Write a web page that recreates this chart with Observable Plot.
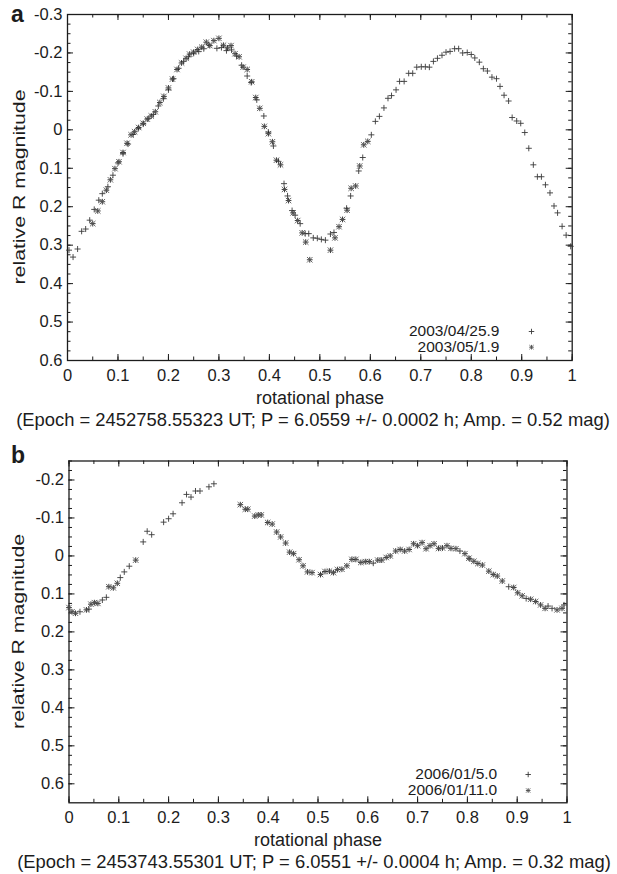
<!DOCTYPE html>
<html><head><meta charset="utf-8">
<script src="https://cdn.jsdelivr.net/npm/d3@7"></script>
<script src="https://cdn.jsdelivr.net/npm/@observablehq/plot@0.6"></script>
<style>
body{margin:0;background:#fff;}
#root{position:relative;width:617px;height:874px;overflow:hidden;background:#fff;}
#root > svg{position:absolute;left:0;}
</style></head><body><div id="root"></div>
<script>
// ---------- data ----------
const xTicks = [0,0.1,0.2,0.3,0.4,0.5,0.6,0.7,0.8,0.9,1];
const yTicksA = [-0.3,-0.2,-0.1,0,0.1,0.2,0.3,0.4,0.5,0.6];
const yTicksB = [-0.2,-0.1,0,0.1,0.2,0.3,0.4,0.5,0.6];
const yDomainA = [-0.3, 0.6];
const yDomainB = [-0.25, 0.65];
const legendA = ["2003/04/25.9","2003/05/1.9"];
const legendB = ["2006/01/5.0","2006/01/11.0"];
const captionA = "(Epoch = 2452758.55323 UT; P = 6.0559 +/- 0.0002 h; Amp. = 0.52 mag)";
const captionB = "(Epoch = 2453743.55301 UT; P = 6.0551 +/- 0.0004 h; Amp. = 0.32 mag)";
const xTitle = "rotational phase";
const yTitle = "relative R magnitude";

// panel a, session 2003/04/25.9 (plus)  [phase, magnitude]
const aPlus = [[0.003,0.313],[0.011,0.331],[0.020,0.310],[0.028,0.264],[0.036,0.258],[0.044,0.235],[0.053,0.207],[0.062,0.183],[0.069,0.166],[0.080,0.148],[0.090,0.118],[0.100,0.086],[0.110,0.062],[0.120,0.037],[0.130,0.012],[0.140,-0.003],[0.150,-0.015],[0.160,-0.029],[0.170,-0.040],[0.180,-0.062],[0.190,-0.081],[0.200,-0.104],[0.210,-0.133],[0.220,-0.160],[0.230,-0.178],[0.240,-0.190],[0.250,-0.199],[0.260,-0.204],[0.270,-0.211],[0.280,-0.221],[0.296,-0.212],[0.305,-0.214],[0.315,-0.206],[0.325,-0.208],[0.335,-0.192],[0.345,-0.168],[0.356,-0.140],[0.364,-0.123],[0.375,-0.078],[0.389,-0.036],[0.398,0.006],[0.408,0.042],[0.418,0.082],[0.429,0.140],[0.436,0.172],[0.445,0.210],[0.451,0.222],[0.461,0.244],[0.471,0.270],[0.478,0.270],[0.487,0.281],[0.495,0.282],[0.503,0.285],[0.511,0.287],[0.521,0.271],[0.528,0.267],[0.553,0.204],[0.561,0.172],[0.577,0.107],[0.585,0.072],[0.602,0.013],[0.610,-0.022],[0.618,-0.035],[0.627,-0.057],[0.635,-0.082],[0.642,-0.089],[0.651,-0.104],[0.658,-0.126],[0.667,-0.126],[0.676,-0.147],[0.684,-0.147],[0.692,-0.163],[0.701,-0.164],[0.709,-0.164],[0.717,-0.163],[0.725,-0.178],[0.733,-0.186],[0.742,-0.194],[0.750,-0.202],[0.758,-0.204],[0.767,-0.211],[0.775,-0.211],[0.783,-0.200],[0.792,-0.201],[0.800,-0.196],[0.807,-0.187],[0.816,-0.176],[0.824,-0.159],[0.832,-0.153],[0.841,-0.137],[0.850,-0.133],[0.857,-0.113],[0.865,-0.090],[0.874,-0.075],[0.881,-0.032],[0.890,-0.023],[0.898,-0.017],[0.906,0.007],[0.914,0.048],[0.923,0.091],[0.931,0.122],[0.939,0.122],[0.947,0.143],[0.956,0.164],[0.964,0.198],[0.971,0.216],[0.980,0.251],[0.988,0.274],[0.997,0.303]];
// panel a, session 2003/05/1.9 (asterisk)
const aStar = [[0.050,0.244],[0.060,0.211],[0.069,0.187],[0.077,0.157],[0.085,0.130],[0.094,0.101],[0.102,0.083],[0.110,0.059],[0.118,0.035],[0.126,0.013],[0.133,0.005],[0.141,-0.006],[0.150,-0.017],[0.158,-0.028],[0.166,-0.036],[0.174,-0.047],[0.183,-0.071],[0.191,-0.087],[0.200,-0.109],[0.208,-0.132],[0.217,-0.157],[0.226,-0.174],[0.235,-0.186],[0.242,-0.197],[0.250,-0.202],[0.258,-0.209],[0.266,-0.215],[0.275,-0.228],[0.282,-0.219],[0.290,-0.232],[0.300,-0.238],[0.309,-0.220],[0.317,-0.213],[0.324,-0.219],[0.332,-0.198],[0.340,-0.190],[0.348,-0.163],[0.356,-0.157],[0.365,-0.125],[0.373,-0.084],[0.381,-0.056],[0.390,-0.009],[0.398,0.010],[0.406,0.031],[0.414,0.079],[0.422,0.091],[0.430,0.155],[0.438,0.184],[0.447,0.216],[0.456,0.236],[0.465,0.268],[0.472,0.292],[0.480,0.338],[0.521,0.313],[0.530,0.281],[0.538,0.252],[0.545,0.233],[0.554,0.209],[0.562,0.152],[0.571,0.146],[0.579,0.094],[0.587,0.039],[0.595,0.030]];
// panel b, session 2006/01/5.0 (plus)
const bPlus = [[0.022,0.147],[0.040,0.140],[0.067,0.116],[0.075,0.109],[0.103,0.057],[0.111,0.042],[0.121,0.027],[0.149,-0.037],[0.157,-0.065],[0.166,-0.056],[0.190,-0.089],[0.200,-0.098],[0.209,-0.111],[0.227,-0.140],[0.236,-0.162],[0.245,-0.155],[0.254,-0.171],[0.263,-0.171],[0.281,-0.182],[0.291,-0.190],[0.611,0.019],[0.785,-0.013],[0.805,0.008],[0.883,0.081],[0.918,0.112],[0.962,0.132],[0.970,0.138],[0.994,0.129]];
// panel b, session 2006/01/11.0 (asterisk)
const bStar = [[0.000,0.136],[0.006,0.147],[0.013,0.151],[0.035,0.142],[0.044,0.127],[0.051,0.123],[0.058,0.125],[0.080,0.081],[0.089,0.084],[0.097,0.072],[0.134,0.011],[0.344,-0.135],[0.354,-0.123],[0.359,-0.123],[0.373,-0.105],[0.380,-0.108],[0.386,-0.108],[0.399,-0.088],[0.408,-0.084],[0.417,-0.063],[0.425,-0.050],[0.435,-0.034],[0.443,-0.010],[0.451,-0.006],[0.462,0.010],[0.470,0.026],[0.479,0.042],[0.488,0.044],[0.505,0.049],[0.514,0.041],[0.523,0.040],[0.531,0.044],[0.539,0.036],[0.548,0.035],[0.558,0.026],[0.568,0.009],[0.576,0.009],[0.586,0.017],[0.595,0.015],[0.603,0.015],[0.620,0.011],[0.628,0.011],[0.637,0.004],[0.645,0.000],[0.656,-0.013],[0.665,-0.017],[0.674,-0.013],[0.683,-0.017],[0.692,-0.032],[0.700,-0.027],[0.709,-0.035],[0.717,-0.019],[0.725,-0.027],[0.733,-0.032],[0.742,-0.020],[0.750,-0.021],[0.759,-0.027],[0.767,-0.020],[0.777,-0.019],[0.795,-0.006],[0.803,0.006],[0.813,0.014],[0.821,0.020],[0.830,0.024],[0.843,0.040],[0.852,0.049],[0.860,0.053],[0.870,0.066],[0.893,0.083],[0.901,0.097],[0.910,0.105],[0.927,0.114],[0.937,0.120],[0.947,0.129],[0.956,0.138],[0.980,0.142],[0.990,0.138]];

// ---------- drawing ----------
const FONT = "'Liberation Sans', Arial, Helvetica, sans-serif";
const INK = "#1c1c1c";
const fmt = d => Math.abs(d) < 1e-9 ? "0" : String(Math.round(d * 10) / 10);
const minorOf = (lo, hi, step) => d3.range(Math.round((hi - lo) / step) + 1).map(i => +(lo + i * step).toFixed(4));

function panel({height, ml, mr, mt, mb, yDomain, yTicks, plus, star, legend, leg}) {
  const W = 617;
  const pw = W - ml - mr, ph = height - mt - mb;
  const xMinor = minorOf(0, 1, 0.05);
  const yMinor = minorOf(yTicks[0] - 0.1, yTicks[yTicks.length - 1], 0.025).filter(v => v >= yDomain[0] - 1e-9 && v <= yDomain[1] + 1e-9);
  const P = plus.map(([x, y]) => ({x, y}));
  const S = star.map(([x, y]) => ({x, y}));
  const mk = {stroke: "#3a3a3a", strokeWidth: 0.9};
  return Plot.plot({
    width: W, height, marginLeft: ml, marginRight: mr, marginTop: mt, marginBottom: mb,
    style: {fontFamily: FONT, fontSize: "16.5px", color: INK, background: "transparent", overflow: "visible"},
    x: {domain: [0, 1]},
    y: {domain: yDomain, reverse: true},
    marks: [
      Plot.axisX({ticks: xTicks, tickSize: 0, tickPadding: 8.5, tickFormat: fmt, label: null, anchor: "bottom", fill: INK, fontSize: 16.5}),
      Plot.axisY({ticks: yTicks, tickSize: 0, tickPadding: 5, tickFormat: fmt, label: null, anchor: "left", fill: INK, fontSize: 16.5}),
      // inward ticks on all four sides
      Plot.tickX(xTicks, {insetTop: ph - 6, stroke: INK}),
      Plot.tickX(xTicks, {insetBottom: ph - 6, stroke: INK}),
      Plot.tickX(xMinor, {insetTop: ph - 3.5, stroke: INK}),
      Plot.tickX(xMinor, {insetBottom: ph - 3.5, stroke: INK}),
      Plot.tickY(yTicks, {insetRight: pw - 6, stroke: INK}),
      Plot.tickY(yTicks, {insetLeft: pw - 6, stroke: INK}),
      Plot.tickY(yMinor, {insetRight: pw - 3.5, stroke: INK}),
      Plot.tickY(yMinor, {insetLeft: pw - 3.5, stroke: INK}),
      Plot.frame({stroke: INK, strokeWidth: 1.3}),
      // data
      Plot.dot(P, {x: "x", y: "y", symbol: "plus", r: 2.1, ...mk}),
      Plot.dot(S, {x: "x", y: "y", symbol: "plus", r: 2.0, stroke: "#222", strokeWidth: 0.9}),
      Plot.dot(S, {x: "x", y: "y", symbol: "times", r: 2.6, stroke: "#555", strokeWidth: 0.9}),
      // legend
      Plot.text([legend[0]], {text: d => d, frameAnchor: "bottom-right", dx: leg.tx, dy: leg.y1, textAnchor: "end", lineAnchor: "middle", fill: INK, fontSize: 15.5}),
      Plot.text([legend[1]], {text: d => d, frameAnchor: "bottom-right", dx: leg.tx, dy: leg.y2, textAnchor: "end", lineAnchor: "middle", fill: INK, fontSize: 15.5}),
      Plot.dot([legend[0]], {frameAnchor: "bottom-right", dx: leg.mx, dy: leg.y1, symbol: "plus", r: 1.9, ...mk}),
      Plot.dot([legend[1]], {frameAnchor: "bottom-right", dx: leg.mx, dy: leg.y2, symbol: "plus", r: 1.6, stroke: "#333", strokeWidth: 0.8}),
      Plot.dot([legend[1]], {frameAnchor: "bottom-right", dx: leg.mx, dy: leg.y2, symbol: "times", r: 2.1, stroke: "#555", strokeWidth: 0.8})
    ]
  });
}

const root = document.getElementById("root");

const svgA = panel({height: 390, ml: 67, mr: 45.3, mt: 14, mb: 30, yDomain: yDomainA, yTicks: yTicksA,
  plus: aPlus, star: aStar, legend: legendA, leg: {tx: -72.7, mx: -40.7, y1: -29, y2: -13.3}});
svgA.style.top = "0px";
root.appendChild(svgA);

const svgB = panel({height: 392, ml: 68.5, mr: 50.5, mt: 20.5, mb: 29.7, yDomain: yDomainB, yTicks: yTicksB,
  plus: bPlus, star: bStar, legend: legendB, leg: {tx: -69.8, mx: -38.8, y1: -28.3, y2: -12.3}});
svgB.style.top = "440px";
root.appendChild(svgB);

// titles, panel letters, captions
const ov = d3.create("svg").attr("width", 617).attr("height", 874)
  .style("position", "absolute").style("top", "0px").style("left", "0px")
  .style("font-family", FONT).style("fill", INK);
const T = (txt, x, y, opts = {}) => {
  const t = ov.append("text").attr("x", x).attr("y", y).text(txt)
    .attr("text-anchor", opts.anchor || "middle")
    .attr("font-size", opts.size || 18);
  if (opts.central) t.attr("dominant-baseline", "central");
  if (opts.bold) t.attr("font-weight", "bold");
  if (opts.rotate) t.attr("transform", `rotate(-90 ${x} ${y})`);
  if (opts.len) t.attr("textLength", opts.len).attr("lengthAdjust", "spacingAndGlyphs");
  return t;
};
T("a", 11, 21.7, {anchor: "start", size: 23, bold: true});
T("b", 11, 463, {anchor: "start", size: 23, bold: true});
T(yTitle, 19, 187, {rotate: true, central: true, size: 17, len: 195});
T(yTitle, 19, 631.4, {rotate: true, central: true, size: 17, len: 195});
T(xTitle, 320, 397.7, {central: true, size: 18});
T(xTitle, 318, 840, {central: true, size: 18});
T(captionA, 313, 419.4, {central: true, size: 18.4});
T(captionB, 314, 861.7, {central: true, size: 18.4});
root.appendChild(ov.node());
</script>
</body></html>
